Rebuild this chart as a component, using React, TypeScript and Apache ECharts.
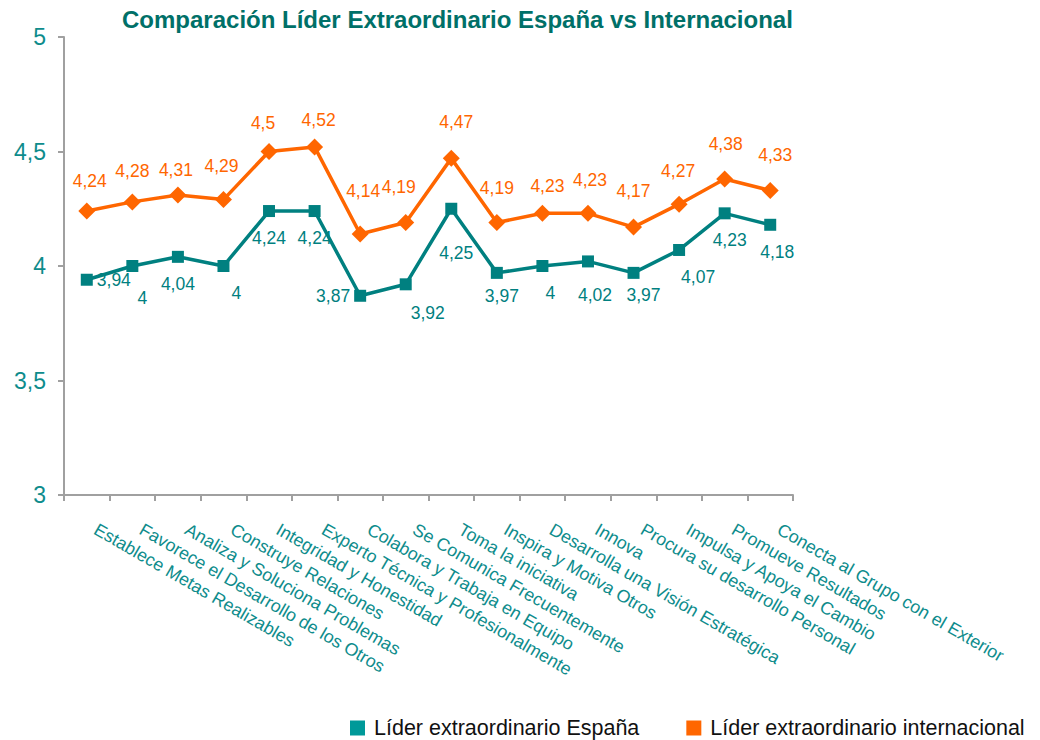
import React, { useEffect, useRef } from "react";
import * as echarts from "echarts";

const categories = [
  "Establece Metas Realizables",
  "Favorece el Desarrollo de los Otros",
  "Analiza y Soluciona Problemas",
  "Construye Relaciones",
  "Integridad y Honestidad",
  "Experto Técnica y Profesionalmente",
  "Colabora y Trabaja en Equipo",
  "Se Comunica Frecuentemente",
  "Toma la iniciativa",
  "Inspira y Motiva Otros",
  "Desarrolla una Visión Estratégica",
  "Innova",
  "Procura su desarrollo Personal",
  "Impulsa y Apoya el Cambio",
  "Promueve Resultados",
  "Conecta al Grupo con el Exterior",
];

const espana = [3.94, 4, 4.04, 4, 4.24, 4.24, 3.87, 3.92, 4.25, 3.97, 4, 4.02, 3.97, 4.07, 4.23, 4.18];
const internacional = [4.24, 4.28, 4.31, 4.29, 4.5, 4.52, 4.14, 4.19, 4.47, 4.19, 4.23, 4.23, 4.17, 4.27, 4.38, 4.33];

const seriesNames = ["Líder extraordinario España", "Líder extraordinario internacional"];
const yTicks = [3, 3.5, 4, 4.5, 5];

// label placement tweaks (style only)
const espanaLabelPos: (string | undefined)[] = ["right", undefined, undefined, undefined, undefined, undefined, "left"];
const espanaLabelOffset: [number, number][] = [
  [0, 0], [10, 5], [0, 0], [13, 0], [0, 0], [0, 0], [0, 0], [22, 2],
  [5, 17], [5, -4], [8, 0], [7, 7], [10, -5], [19, 0], [5, 0], [7, 0],
];
const intlLabelOffset: [number, number][] = [
  [3, 2], [0, 2], [-2, 7], [-2, -1], [-6, 4], [4, 6], [3, -10], [-7, -3],
  [5, -4], [0, -2], [5, 5], [2, -1], [0, -4], [-1, -1], [1, -2], [5, -3],
];

const TEAL = "#008080";
const TEAL_LIGHT = "#0E8C8C";
const ORANGE = "#FF6600";
const FONT = "'Liberation Sans', Arial, sans-serif";

const fmt = (v: number) => String(v).replace(".", ",");

export default function App() {
  const ref = useRef<HTMLDivElement>(null);
  useEffect(() => {
    if (!ref.current) return;
    const chart = echarts.init(ref.current, undefined, { renderer: "svg" });
    const espData = espana.map((v, i) => ({
      value: v,
      label: {
        position: (espanaLabelPos[i] as any) || "bottom",
        offset: espanaLabelOffset[i],
        distance: espanaLabelPos[i] ? 4 : 12,
      },
    }));
    const intData = internacional.map((v, i) => ({
      value: v,
      label: { offset: intlLabelOffset[i] },
    }));
    chart.setOption({
      animation: false,
      textStyle: { fontFamily: FONT },
      title: {
        text: "Comparación Líder Extraordinario España vs Internacional",
        left: 122,
        top: 7,
        padding: 0,
        textStyle: { fontSize: 24, fontWeight: "bold", color: "#007068", fontFamily: FONT },
      },
      legend: {
        left: 350,
        top: 717,
        itemWidth: 15,
        itemHeight: 15,
        itemGap: 47,
        padding: 0,
        textStyle: { fontSize: 21.5, color: "#111", fontFamily: FONT, padding: [0, 0, 0, 4] },
        data: [
          { name: seriesNames[0], icon: "rect", itemStyle: { color: "#009999" } },
          { name: seriesNames[1], icon: "rect", itemStyle: { color: ORANGE } },
        ],
      },
      grid: { left: 64, right: 247, top: 37, bottom: 245, containLabel: false },
      xAxis: {
        type: "category",
        data: categories,
        boundaryGap: true,
        axisLine: { lineStyle: { color: "#A0A0A0", width: 2 } },
        axisTick: { show: true, length: 6, lineStyle: { color: "#A0A0A0", width: 2 } },
        axisLabel: {
          interval: 0,
          rotate: -30,
          margin: 28,
          padding: [0, 0, 0, 10],
          fontSize: 17.8,
          color: TEAL_LIGHT,
          fontFamily: FONT,
        },
      },
      yAxis: {
        type: "value",
        min: yTicks[0],
        max: yTicks[yTicks.length - 1],
        interval: 0.5,
        splitLine: { show: false },
        axisLine: { show: true, lineStyle: { color: "#A0A0A0", width: 2 } },
        axisTick: { show: true, length: 6, lineStyle: { color: "#A0A0A0", width: 2 } },
        axisLabel: {
          fontSize: 23,
          margin: 18,
          color: TEAL_LIGHT,
          fontFamily: FONT,
          formatter: (v: number) => fmt(v),
        },
      },
      series: [
        {
          name: seriesNames[0],
          type: "line",
          data: espData,
          symbol: "rect",
          symbolSize: 12,
          lineStyle: { color: TEAL, width: 3.5 },
          itemStyle: { color: TEAL },
          label: {
            show: true,
            position: "bottom",
            distance: 12,
            fontSize: 17.5,
            color: TEAL,
            fontFamily: FONT,
            formatter: (p: any) => fmt(p.value),
          },
          z: 3,
        },
        {
          name: seriesNames[1],
          type: "line",
          data: intData,
          symbol: "diamond",
          symbolSize: 17,
          lineStyle: { color: ORANGE, width: 3.5 },
          itemStyle: { color: ORANGE },
          label: {
            show: true,
            position: "top",
            distance: 15,
            fontSize: 17.5,
            color: ORANGE,
            fontFamily: FONT,
            formatter: (p: any) => fmt(p.value),
          },
          z: 2,
        },
      ],
    });
    return () => chart.dispose();
  }, []);
  return (
    <div
      ref={ref}
      style={{ position: "absolute", left: 0, top: 0, width: 1040, height: 740, background: "#fff" }}
    />
  );
}
